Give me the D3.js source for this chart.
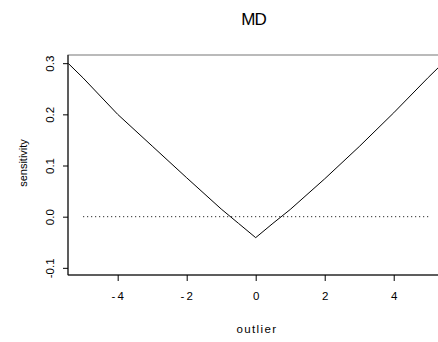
<!DOCTYPE html>
<html>
<head>
<meta charset="utf-8">
<script src="https://cdn.jsdelivr.net/npm/d3@7"></script>
<style>
  body { margin: 0; background: #fff; }
  text { font-family: "Liberation Sans", Arial, sans-serif; fill: #000; }
</style>
</head>
<body>
<div id="chart"></div>
<script>
// Datos
const outlier = [-5.5, -5, -4, -3, -2, -1, -0.5, 0, 0.5, 1, 2, 3, 4, 5, 5.5];
const sensitivity = [0.304, 0.271, 0.200, 0.138, 0.076, 0.015, -0.013, -0.041, -0.013, 0.014, 0.074, 0.137, 0.203, 0.272, 0.305];
const refX = [-5, 5];
const refY = [0, 0];
const xTicks = [-4, -2, 0, 2, 4];
const yTicks = [-0.1, 0.0, 0.1, 0.2, 0.3];

const width = 438, height = 342;
const mLeft = 68, mTop = 55, mBottom = 275, mRight = 443.4;

// Formato con guion normal en lugar del signo menos tipográfico
const fmt = f => d => d3.format(f)(d).replace('\u2212', '-');

const svg = d3.select('#chart').append('svg')
    .attr('width', width)
    .attr('height', height);

const x = d3.scaleLinear().domain([-5.44, 5.44]).range([mLeft, mRight]);
const y = d3.scaleLinear().domain([-0.114, 0.316]).range([mBottom, mTop]);

// Recorte del área de trazado
svg.append('clipPath').attr('id', 'clip')
    .append('rect')
    .attr('x', mLeft).attr('y', mTop)
    .attr('width', mRight - mLeft).attr('height', mBottom - mTop);

const points = outlier.map((d, i) => ({ x: d, y: sensitivity[i] }));
const line = d3.line().x(d => x(d.x)).y(d => y(d.y));

svg.append('path')
    .datum(points)
    .attr('clip-path', 'url(#clip)')
    .attr('fill', 'none')
    .attr('stroke', '#000')
    .attr('stroke-width', 1)
    .attr('d', line);

// Línea de referencia punteada
svg.append('path')
    .datum(refX.map((d, i) => ({ x: d, y: refY[i] })))
    .attr('fill', 'none')
    .attr('stroke', '#000')
    .attr('stroke-width', 1)
    .attr('stroke-dasharray', '1,3')
    .attr('d', line);

// Caja
svg.append('rect')
    .attr('x', mLeft).attr('y', mTop)
    .attr('width', mRight - mLeft).attr('height', mBottom - mTop)
    .attr('fill', 'none')
    .attr('stroke', '#777')
    .attr('stroke-width', 1);

// Ejes
const xAxis = svg.append('g')
    .attr('transform', `translate(0,${mBottom})`)
    .call(d3.axisBottom(x).tickValues(xTicks).tickSize(6).tickPadding(11)
        .tickFormat(fmt('d')));
xAxis.select('.domain').remove();
xAxis.selectAll('text')
    .style('font-size', '11.5px')
    .style('letter-spacing', d => d < 0 ? '2px' : '0px')
    .attr('dx', d => d < 0 ? 0.5 : 0);

svg.append('line')
    .attr('x1', mLeft).attr('x2', mRight)
    .attr('y1', mBottom).attr('y2', mBottom)
    .attr('stroke', '#000');

const yAxis = svg.append('g')
    .attr('transform', `translate(${mLeft},0)`)
    .call(d3.axisLeft(y).tickValues(yTicks).tickSize(5).tickFormat(fmt('.1f')));
yAxis.select('.domain').remove();
yAxis.selectAll('text')
    .style('font-size', '11.5px')
    .attr('text-anchor', 'middle')
    .attr('dy', 0)
    .attr('x', 0)
    .attr('y', 0)
    .attr('transform', 'translate(-14,0) rotate(-90)');

svg.append('line')
    .attr('x1', mLeft).attr('x2', mLeft)
    .attr('y1', mTop).attr('y2', mBottom)
    .attr('stroke', '#000');

// Títulos
svg.append('text')
    .attr('x', 253.5).attr('y', 25)
    .attr('text-anchor', 'middle')
    .style('font-size', '17px')
    .style('letter-spacing', '-1px')
    .text('MD');

svg.append('text')
    .attr('x', 257).attr('y', 333)
    .attr('text-anchor', 'middle')
    .style('font-size', '11.5px')
    .style('letter-spacing', '1.4px')
    .text('outlier');

svg.append('text')
    .attr('transform', 'translate(26.5,163) rotate(-90)')
    .attr('text-anchor', 'middle')
    .style('font-size', '11px')
    .text('sensitivity');
</script>
</body>
</html>
